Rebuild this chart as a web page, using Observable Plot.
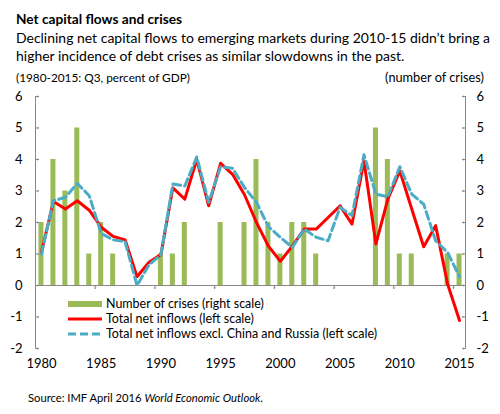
<!DOCTYPE html>
<html>
<head>
<meta charset="utf-8">
<script src="https://cdn.jsdelivr.net/npm/d3@7"></script>
<script src="https://cdn.jsdelivr.net/npm/@observablehq/plot@0.6"></script>
<style>
  html, body { margin: 0; padding: 0; background: #fff; }
  #wrap { position: relative; width: 500px; height: 414px; font-family: Lato, "Noto Sans", sans-serif; color: #000; overflow: hidden; }
  .abs { position: absolute; white-space: nowrap; }
  #title { left: 16px; top: 11px; font-size: 13.6px; font-weight: bold; line-height: 16px; }
  #sub { left: 16px; top: 29px; font-size: 15px; line-height: 18px; }
  #unitL { left: 16px; top: 70px; font-size: 12.5px; line-height: 15px; }
  #unitR { right: 16px; top: 70px; font-size: 12.5px; line-height: 15px; }
  #chart { left: 0; top: 88px; }
  #legend { left: 68px; top: 296px; font-size: 12.4px; line-height: 15px; }
  #legend div { display: flex; align-items: center; height: 15px; }
  #legend svg { margin-right: 4px; }
  #source { left: 28px; top: 391px; font-size: 11.3px; line-height: 14px; }
</style>
</head>
<body>
<div id="wrap">
  <div id="title" class="abs"><span id="titleText">Net capital flows and crises</span></div>
  <div id="sub" class="abs"><span id="sub1">Declining net capital flows to emerging markets during 2010-15 didn’t bring a</span><br><span>higher incidence of debt crises as similar slowdowns in the past.</span></div>
  <div id="unitL" class="abs"><span id="unitLText">(1980-2015: Q3, percent of GDP)</span></div>
  <div id="unitR" class="abs"><span id="unitRText">(number of crises)</span></div>
  <div id="chart" class="abs"></div>
  <div id="legend" class="abs"></div>
  <div id="source" class="abs"><span id="sourceText">Source: IMF April 2016 <i>World Economic Outlook</i>.</span></div>
</div>
<script>
const years = [1980,1981,1982,1983,1984,1985,1986,1987,1988,1989,1990,1991,1992,1993,1994,1995,1996,1997,1998,1999,2000,2001,2002,2003,2004,2005,2006,2007,2008,2009,2010,2011,2012,2013,2014,2015];
const crises = [2,4,3,5,1,2,1,0,0,0,1,1,2,0,0,2,0,2,4,2,1,2,2,1,0,0,0,0,5,4,1,1,0,0,1,1];
const totalInflows = [1.05,2.67,2.43,2.69,2.39,1.85,1.56,1.45,0.28,0.74,0.98,3.1,2.74,4.0,2.53,3.88,3.53,2.88,2.0,1.25,0.77,1.25,1.79,1.79,2.16,2.53,1.95,3.96,1.32,2.74,3.64,2.43,1.23,1.9,0.05,-1.11];
const exclChinaRussia = [1.0,2.69,2.8,3.24,2.85,1.65,1.45,1.39,0.0,0.65,0.98,3.22,3.16,4.08,2.64,3.77,3.72,3.11,2.64,1.87,1.53,1.21,1.79,1.53,1.42,2.48,2.22,4.15,2.9,2.82,3.77,2.9,2.58,1.42,1.05,0.28];
const xTickLabels = [1980,1985,1990,1995,2000,2005,2010,2015];
const xTickMarks = [1984.5,1989.5,1994.5,1999.5,2004.5,2009.5,2014.5];
const yTicks = [-2,-1,0,1,2,3,4,5,6];
const xDomain = [1979.5, 2015.5];
const yDomain = [-2, 6];

const legendItems = [
  {label: "Number of crises (right scale)", kind: "bar", color: "#9BBB59"},
  {label: "Total net inflows (left scale)", kind: "line", color: "#FF0000"},
  {label: "Total net inflows excl. China and Russia (left scale)", kind: "dash", color: "#4BACC6"}
];

const rows = years.map((year, i) => ({year, crises: crises[i], total: totalInflows[i], excl: exclChinaRussia[i]}));
const halfBar = 0.21;
const axisColor = "#888";

const chart = Plot.plot({
  width: 500,
  height: 290,
  marginLeft: 35,
  marginRight: 35,
  marginTop: 8,
  marginBottom: 30,
  style: {fontFamily: 'Lato, "Noto Sans", sans-serif', fontSize: "13px", color: "#000", background: "transparent"},
  x: {domain: xDomain, axis: null},
  y: {domain: yDomain, axis: null},
  marks: [
    Plot.rectY(rows, {x1: d => d.year - halfBar, x2: d => d.year + halfBar, y: "crises", fill: "#9BBB59"}),
    Plot.ruleY([0], {stroke: axisColor, strokeWidth: 1}),
    Plot.ruleX(xDomain, {stroke: axisColor, strokeWidth: 1}),
    Plot.vector(xTickMarks, {x: d => d, y: 0, rotate: 180, length: 3, anchor: "start", stroke: axisColor, strokeWidth: 1}),
    Plot.vector(yTicks, {y: d => d, frameAnchor: "left", rotate: 90, length: 3, anchor: "start", stroke: axisColor, strokeWidth: 1}),
    Plot.vector(yTicks, {y: d => d, frameAnchor: "right", rotate: 270, length: 3, anchor: "start", stroke: axisColor, strokeWidth: 1}),
    Plot.text(yTicks, {y: d => d, frameAnchor: "left", dx: -13, textAnchor: "end", text: d => d < 0 ? "-" + Math.abs(d) : String(d), fontSize: 13}),
    Plot.text(yTicks, {y: d => d, frameAnchor: "right", dx: 11, textAnchor: "start", text: d => d < 0 ? "-" + Math.abs(d) : String(d), fontSize: 13}),
    Plot.text(xTickLabels, {x: d => d, frameAnchor: "bottom", dy: 19, text: d => String(d), fontSize: 13}),
    Plot.line(rows, {x: "year", y: "total", stroke: "#FF0000", strokeWidth: 3, strokeLinejoin: "round"}),
    Plot.line(rows, {x: "year", y: "excl", stroke: "#4BACC6", strokeWidth: 3, strokeDasharray: "8,4", strokeLinejoin: "round"})
  ]
});
document.getElementById("chart").appendChild(chart);

const legend = document.getElementById("legend");
legendItems.forEach((item, i) => {
  const row = document.createElement("div");
  let sw;
  if (item.kind === "bar") sw = `<svg width="34" height="8"><rect x="0" y="1" width="34" height="6" fill="${item.color}"/></svg>`;
  else if (item.kind === "line") sw = `<svg width="34" height="8"><line x1="0" x2="34" y1="4" y2="4" stroke="${item.color}" stroke-width="3"/></svg>`;
  else sw = `<svg width="34" height="8"><line x1="0" x2="34" y1="4" y2="4" stroke="${item.color}" stroke-width="3" stroke-dasharray="8,4"/></svg>`;
  row.innerHTML = sw + `<span id="leg${i}">${item.label}</span>`;
  legend.appendChild(row);
});

// scale fonts so texts match the reference widths
function fit(spanId, boxId, target) {
  const span = document.getElementById(spanId);
  const box = document.getElementById(boxId);
  const fs = parseFloat(getComputedStyle(box).fontSize);
  const w = span.getBoundingClientRect().width;
  box.style.fontSize = (fs * target / w).toFixed(2) + "px";
}
fit("titleText", "title", 166);
fit("sub1", "sub", 474);
fit("unitLText", "unitL", 174);
fit("unitRText", "unitR", 99);
fit("leg2", "legend", 271);
fit("sourceText", "source", 235);
</script>
</body>
</html>
